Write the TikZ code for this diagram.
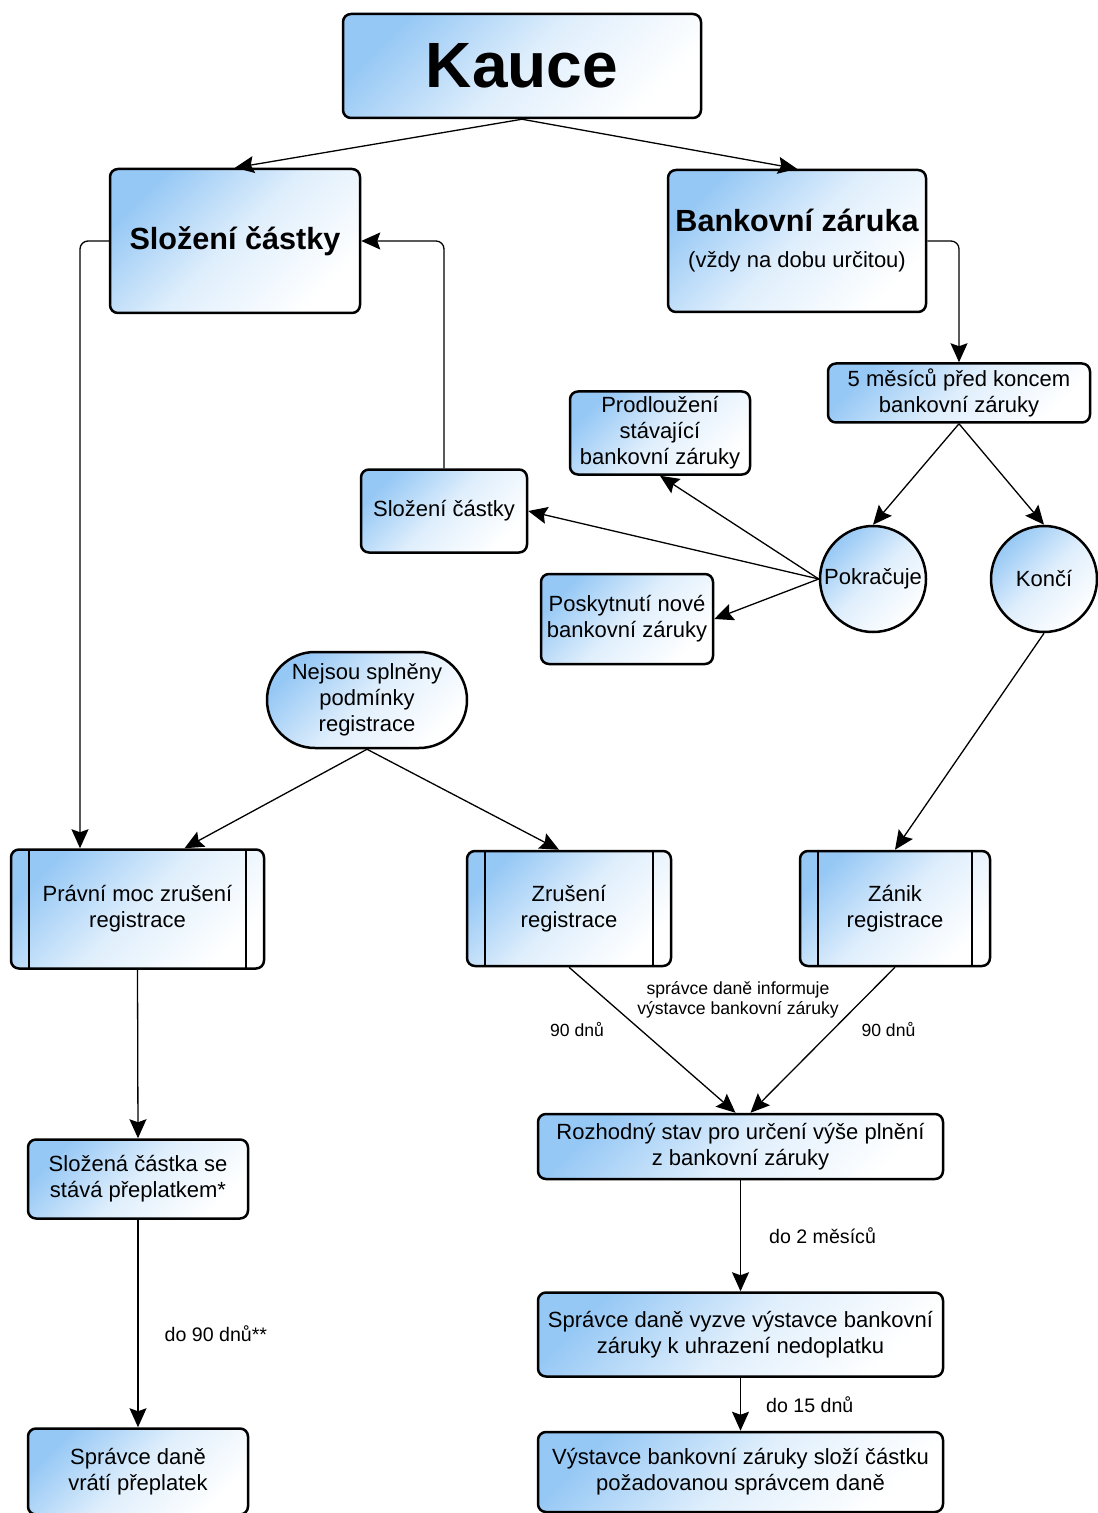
\documentclass[tikz,border=0pt]{standalone}
\usepackage{fontspec}
\setmainfont{Liberation Sans}
\usepackage{tikz}
\usetikzlibrary{arrows.meta,positioning,calc}
\definecolor{kblue}{RGB}{150,200,245}

\begin{document}
\begin{tikzpicture}[->,>={Stealth[length=9.5pt,width=8.5pt,inset=1.5pt]},x=0.5pt,y=-0.5pt,
                    line width=0.65pt]
  \tikzstyle{box}=[rectangle,rounded corners=4pt,draw=black,line width=1.25pt,
                   top color=kblue,bottom color=white,middle color=kblue!30,shading angle=45,
                   align=center,inner sep=0pt,font=\fontsize{11}{13}\selectfont]
  \tikzstyle{proc}=[box,path picture={
      \draw[-,line width=1.25pt] ([xshift=9pt]path picture bounding box.north west) -- ([xshift=9pt]path picture bounding box.south west);
      \draw[-,line width=1.25pt] ([xshift=-9pt]path picture bounding box.north east) -- ([xshift=-9pt]path picture bounding box.south east);}]
  \tikzstyle{kruh}=[box,circle,minimum size=53pt]
  \tikzstyle{popis}=[font=\fontsize{8.8}{10}\selectfont,inner sep=0pt,align=center]
  \tikzstyle{lhuta}=[font=\fontsize{9.8}{11}\selectfont,inner sep=0pt]

  \useasboundingbox (0,0) rectangle (1097,1513);

  \node[box,font=\fontsize{32}{36}\selectfont\bfseries,minimum width=179pt,minimum height=52pt] (K) at (522,66) {Kauce};
  \node[box,font=\fontsize{15.3}{18}\selectfont\bfseries,minimum width=125pt,minimum height=72pt] (S) at (235,241) {Složení částky};
  \node[box,font=\fontsize{11}{18}\selectfont,minimum width=129pt,minimum height=71pt] (B) at (797,241) {{\fontsize{15.3}{18}\selectfont\bfseries Bankovní záruka}\\(vždy na dobu určitou)};
  \node[box,minimum width=131pt,minimum height=29.5pt] (M) at (959,393) {5 měsíců před koncem\\bankovní záruky};
  \node[box,minimum width=90pt,minimum height=41.5pt] (PS) at (660,433) {Prodloužení\\stávající\\bankovní záruky};
  \node[box,minimum width=83pt,minimum height=41.5pt] (SC) at (444,511) {Složení částky};
  \node[kruh] (P) at (873,579) {Pokračuje};
  \node[kruh] (E) at (1044,579) {Končí};
  \node[box,minimum width=86pt,minimum height=45pt] (N) at (627,619) {Poskytnutí nové\\bankovní záruky};
  \node[box,rounded corners=24pt,minimum width=100pt,minimum height=48pt] (R) at (367,700) {Nejsou splněny\\podmínky\\registrace};
  \node[proc,minimum width=126.5pt,minimum height=59.5pt] (PM) at (137.5,909) {Právní moc zrušení\\registrace};
  \node[proc,minimum width=102pt,minimum height=57.5pt] (ZR) at (569,908.5) {Zrušení\\registrace};
  \node[proc,minimum width=95pt,minimum height=57.5pt] (ZA) at (895,908.5) {Zánik\\registrace};
  \node[box,minimum width=110pt,minimum height=39.5pt] (SP) at (138,1179) {Složená částka se\\stává přeplatkem*};
  \node[box,minimum width=110pt,minimum height=43pt] (VP) at (138,1471.5) {Správce daně\\vrátí přeplatek};
  \node[box,minimum width=202.5pt,minimum height=32.5pt] (RS) at (740.5,1146.5) {Rozhodný stav pro určení výše plnění\\z bankovní záruky};
  \node[box,minimum width=202.5pt,minimum height=42pt] (VY) at (740.5,1334.5) {Správce daně vyzve výstavce bankovní\\záruky k uhrazení nedoplatku};
  \node[box,minimum width=202.5pt,minimum height=40pt] (VS) at (740.5,1472) {Výstavce bankovní záruky složí částku\\požadovanou správcem daně};
  \node[popis] (INF) at (738,1000) {správce daně informuje\\výstavce bankovní záruky};

  \path (K.south) edge (S.north)
        (K.south) edge (B.north)
        (M.south) edge (P.north)
        (M.south) edge (E.north)
        (P.west) edge (PS.south)
        (P.west) edge (SC.east)
        (P.west) edge (N.east)
        (E.south) edge (ZA.north)
        (R.south) edge ($(PM.north)+(47,0)$)
        (R.south) edge ($(ZR.north)+(-10,0)$)
        (ZR.south) edge node[popis,left=18pt,pos=0.43] {90 dnů} ($(RS.north)+(-5,0)$)
        (ZA.south) edge node[popis,right=14pt,pos=0.43] {90 dnů} ($(RS.north)+(10,0)$)
        (PM.south) edge (SP.north)
        (SP.south) edge node[lhuta,right=13pt,pos=0.55] {do 90 dnů**} (VP.north)
        (RS.south) edge node[lhuta,right=14pt] {do 2 měsíců} (VY.north)
        (VY.south) edge node[lhuta,right=12.5pt] {do 15 dnů} (VS.north);
  \draw[rounded corners=4pt] (S.west) -| ($(PM.north)+(-57.5,0)$);
  \draw[rounded corners=4pt] (SC.north) |- (S.east);
  \draw[rounded corners=4pt] (B.east) -| (M.north);
\end{tikzpicture}
\end{document}
